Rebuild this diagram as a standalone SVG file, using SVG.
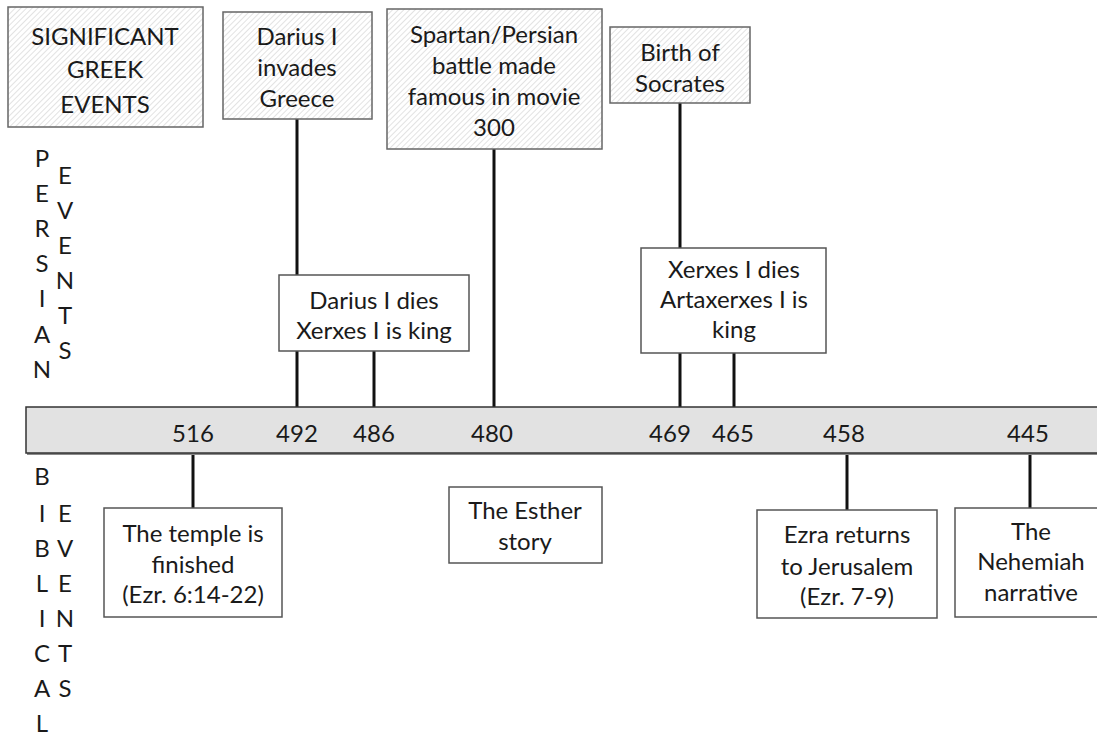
<svg xmlns="http://www.w3.org/2000/svg" width="1097" height="734" viewBox="0 0 1097 734">
<defs>
<pattern id="hatch" width="4" height="4" patternUnits="userSpaceOnUse" patternTransform="rotate(45)">
<rect width="4" height="4" fill="#ffffff"/>
<line x1="0" y1="0" x2="0" y2="4" stroke="#cfcfcf" stroke-width="1.2"/>
</pattern>
</defs>
<style>
text{font-family:Lato,"Open Sans","Liberation Sans",sans-serif;font-size:24px;fill:#1a1a1a;text-anchor:middle}
.hb{fill:url(#hatch);stroke:#666;stroke-width:1.5}
.wb{fill:#ffffff;stroke:#555;stroke-width:1.5}
.conn line{stroke:#111;stroke-width:3}
.vl text{text-anchor:middle}
</style>
<rect width="1097" height="734" fill="#ffffff"/>
<g id="connectors" class="conn">
<line x1="297" y1="119" x2="297" y2="407"/>
<line x1="374" y1="351" x2="374" y2="407"/>
<line x1="494" y1="149" x2="494" y2="407"/>
<line x1="680" y1="103" x2="680" y2="407"/>
<line x1="734" y1="353" x2="734" y2="407"/>
<line x1="193" y1="454" x2="193" y2="508"/>
<line x1="847" y1="454" x2="847" y2="510"/>
<line x1="1030" y1="454" x2="1030" y2="508"/>
</g>
<g id="timeline">
<rect x="27" y="409" width="1080" height="46" fill="#8a8a8a"/>
<rect x="26" y="407" width="1080" height="46" fill="#e2e2e2" stroke="#333" stroke-width="1.5"/>
<text x="193" y="442">516</text>
<text x="297" y="442">492</text>
<text x="374" y="442">486</text>
<text x="492" y="442">480</text>
<text x="670" y="442">469</text>
<text x="733" y="442">465</text>
<text x="844" y="442">458</text>
<text x="1028" y="442">445</text>
</g>
<g id="title">
<rect class="hb" x="8" y="7" width="195" height="120"/>
<text x="105" y="45">SIGNIFICANT</text>
<text x="105" y="78">GREEK</text>
<text x="105" y="113">EVENTS</text>
</g>
<g id="darius-invades">
<rect class="hb" x="223" y="12" width="149" height="107"/>
<text x="297" y="45">Darius I</text>
<text x="297" y="76">invades</text>
<text x="297" y="107">Greece</text>
</g>
<g id="spartan-persian">
<rect class="hb" x="387" y="9" width="215" height="140"/>
<text x="494" y="43">Spartan/Persian</text>
<text x="494" y="74">battle made</text>
<text x="494" y="105">famous in movie</text>
<text x="494" y="136">300</text>
</g>
<g id="birth-socrates">
<rect class="hb" x="610" y="27" width="140" height="76"/>
<text x="680" y="61">Birth of</text>
<text x="680" y="92">Socrates</text>
</g>
<g id="darius-dies">
<rect class="wb" x="279" y="275" width="190" height="76"/>
<text x="374" y="309">Darius I dies</text>
<text x="374" y="339">Xerxes I is king</text>
</g>
<g id="xerxes-dies">
<rect class="wb" x="641" y="248" width="185" height="105"/>
<text x="734" y="278">Xerxes I dies</text>
<text x="734" y="308">Artaxerxes I is</text>
<text x="734" y="338">king</text>
</g>
<g id="temple">
<rect class="wb" x="104" y="508" width="178" height="109"/>
<text x="193" y="542">The temple is</text>
<text x="193" y="573">finished</text>
<text x="193" y="603">(Ezr. 6:14-22)</text>
</g>
<g id="esther">
<rect class="wb" x="449" y="487" width="153" height="76"/>
<text x="525" y="519">The Esther</text>
<text x="525" y="550">story</text>
</g>
<g id="ezra">
<rect class="wb" x="757" y="510" width="180" height="108"/>
<text x="847" y="543">Ezra returns</text>
<text x="847" y="575">to Jerusalem</text>
<text x="847" y="605">(Ezr. 7-9)</text>
</g>
<g id="nehemiah">
<rect class="wb" x="955" y="508" width="160" height="109"/>
<text x="1031" y="540">The</text>
<text x="1031" y="570">Nehemiah</text>
<text x="1031" y="601">narrative</text>
</g>
<g id="persian-events" class="vl">
<text x="42" y="167">P</text>
<text x="42" y="202">E</text>
<text x="42" y="237">R</text>
<text x="42" y="272">S</text>
<text x="42" y="307">I</text>
<text x="42" y="343">A</text>
<text x="42" y="378">N</text>
<text x="65" y="184">E</text>
<text x="65" y="219">V</text>
<text x="65" y="254">E</text>
<text x="65" y="289">N</text>
<text x="65" y="324">T</text>
<text x="65" y="359">S</text>
</g>
<g id="biblical-events" class="vl">
<text x="42" y="485">B</text>
<text x="42" y="522">I</text>
<text x="42" y="557">B</text>
<text x="42" y="592">L</text>
<text x="42" y="627">I</text>
<text x="42" y="662">C</text>
<text x="42" y="697">A</text>
<text x="42" y="732">L</text>
<text x="65" y="522">E</text>
<text x="65" y="557">V</text>
<text x="65" y="592">E</text>
<text x="65" y="627">N</text>
<text x="65" y="662">T</text>
<text x="65" y="697">S</text>
</g>
</svg>
